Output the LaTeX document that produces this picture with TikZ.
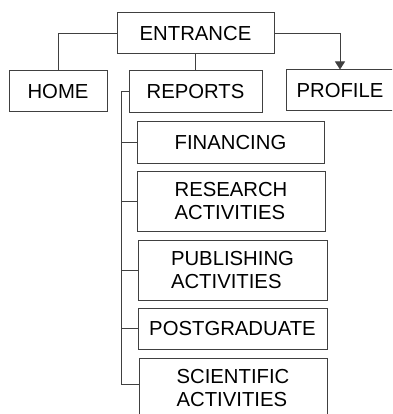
\documentclass[tikz,border=0pt]{standalone}
\usepackage{fontspec}
\setmainfont{Liberation Sans}
\usetikzlibrary{arrows.meta}
\begin{document}
\begin{tikzpicture}[x=1pt,y=-1pt,
  box/.style={draw=black!75, line width=1pt, rectangle, inner sep=0pt, align=left,
    font=\fontsize{20.3}{23.5}\selectfont},
  conn/.style={draw=black!75, line width=1pt}]
\useasboundingbox (0,0) rectangle (392,414);
\clip (0,0) rectangle (392,414);
\node[box, minimum width=157pt, minimum height=41pt] (ent) at (195.5,33.5) {ENTRANCE};
\node[box, minimum width=98pt, minimum height=41pt] (home) at (58,91.5) {HOME};
\node[box, minimum width=133pt, minimum height=42pt] (rep) at (195.5,92) {REPORTS};
\node[box, minimum width=108pt, minimum height=41pt] (prof) at (340,90.5) {PROFILE};
\node[box, minimum width=187pt, minimum height=41pt] (fin) at (230.5,142.5) {FINANCING};
\node[box, minimum width=188pt, minimum height=60pt] (res) at (231,201) {RESEARCH\\ACTIVITIES};
\node[box, minimum width=189pt, minimum height=60pt] (pub) at (232.5,270) {PUBLISHING\\ACTIVITIES};
\node[box, minimum width=189pt, minimum height=41pt] (post) at (232.5,328.5) {POSTGRADUATE};
\node[box, minimum width=188pt, minimum height=60pt] (sci) at (233,388) {SCIENTIFIC\\ACTIVITIES};
\draw[conn] (ent.west) -| (home.north);
\draw[conn] (ent.south) -- (rep.north);
\draw[conn, -{Triangle[width=10pt,length=8pt]}] (ent.east) -| (prof.north);
\coordinate (tk) at ([xshift=-7pt]rep.west);
\coordinate (sciw) at ([yshift=4pt]sci.west);
\draw[conn] (rep.west) -- (tk) |- (sciw);
\draw[conn] (tk |- fin.west) -- (fin.west);
\draw[conn] (tk |- res.west) -- (res.west);
\draw[conn] (tk |- pub.west) -- (pub.west);
\draw[conn] (tk |- post.west) -- (post.west);
\end{tikzpicture}
\end{document}
